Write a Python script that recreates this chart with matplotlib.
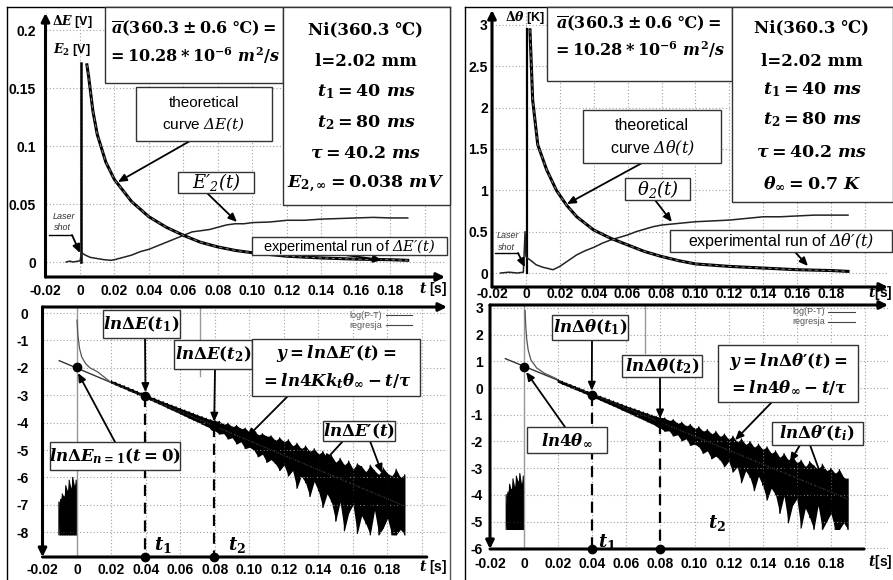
import matplotlib
matplotlib.use("Agg")
import matplotlib.pyplot as plt
from matplotlib.patches import Rectangle
from matplotlib.lines import Line2D

plt.rcParams['font.family'] = ['Liberation Sans', 'DejaVu Sans']
plt.rcParams['mathtext.fontset'] = 'custom'
plt.rcParams['mathtext.rm'] = 'DejaVu Serif:bold'
plt.rcParams['mathtext.it'] = 'DejaVu Serif:italic:bold'
plt.rcParams['mathtext.bf'] = 'DejaVu Serif:bold'
plt.rcParams['mathtext.sf'] = 'DejaVu Serif:italic'   # used for the non-bold formulas

W, H = 893, 580
PR = '\u2032'  # prime

# ---------------- data ----------------
grid_t = [-0.02, 0, 0.02, 0.04, 0.06, 0.08, 0.10, 0.12, 0.14, 0.16, 0.18, 0.20]
t_labels = ['-0.02', '0', '0.02', '0.04', '0.06', '0.08', '0.10', '0.12', '0.14', '0.16', '0.18', '']

# top left: dE(t) [V]
tl_yticks = [0, 0.05, 0.1, 0.15, 0.2]
tl_ylabels = ['0', '0.05', '0.1', '0.15', '0.2']
tl_theo_t = [0.004, 0.005, 0.0075, 0.01, 0.015, 0.02, 0.03, 0.04, 0.05, 0.06, 0.07, 0.08,
             0.09, 0.10, 0.12, 0.14, 0.16, 0.18, 0.19]
tl_theo_v = [0.17, 0.16, 0.13, 0.11, 0.086, 0.071, 0.052, 0.039, 0.030, 0.023, 0.017, 0.013,
             0.010, 0.008, 0.005, 0.0035, 0.0025, 0.002, 0.0015]
tl_e2_t = [-0.008, -0.006, -0.004, -0.002, 0.0, 0.001, 0.003, 0.006, 0.01, 0.014, 0.018, 0.02,
           0.025, 0.03, 0.035, 0.04, 0.045, 0.05, 0.055, 0.06, 0.065, 0.07, 0.075, 0.08, 0.085,
           0.09, 0.095, 0.10, 0.11, 0.12, 0.13, 0.14, 0.15, 0.16, 0.17, 0.18, 0.19]
tl_e2_v = [0.0, 0.0008, 0.0, 0.0006, 0.001, 0.008, 0.006, 0.004, 0.003, 0.002, 0.0015, 0.002,
           0.004, 0.006, 0.009, 0.011, 0.014, 0.017, 0.020, 0.023, 0.026, 0.027, 0.028, 0.030, 0.032,
           0.033, 0.033, 0.034, 0.0345, 0.036, 0.036, 0.037, 0.0375, 0.038, 0.0385, 0.038, 0.038]
tl_laser_top = 0.172

# bottom left: ln dE(t)
bl_yticks = [0, -1, -2, -3, -4, -5, -6, -7, -8]
bl_log_t = [0.0, 0.0005, 0.0015, 0.0027, 0.005, 0.0075, 0.012, 0.019]
bl_log_v = [-0.26, -0.8, -1.3, -1.6, -1.85, -2.0, -2.15, -2.5]
bl_reg_t = [-0.0103, 0.19]
bl_reg_v = [-1.74, -7.05]
noise_t = [0.02, 0.0225, 0.025, 0.0275, 0.03, 0.0325, 0.035, 0.0375, 0.04, 0.0425, 0.045, 0.0475,
           0.05, 0.0525, 0.055, 0.0575, 0.06, 0.0625, 0.065, 0.0675, 0.07, 0.0725, 0.075, 0.0775,
           0.08, 0.0825, 0.085, 0.0875, 0.09, 0.0925, 0.095, 0.0975, 0.1, 0.1025, 0.105, 0.1075,
           0.11, 0.1125, 0.115, 0.1175, 0.12, 0.1225, 0.125, 0.1275, 0.13, 0.1325, 0.135, 0.1375,
           0.14, 0.1425, 0.145, 0.1475, 0.15, 0.1525, 0.155, 0.1575, 0.16, 0.1625, 0.165, 0.1675,
           0.17, 0.1725, 0.175, 0.1775, 0.18, 0.1825, 0.185, 0.1875, 0.19]
bl_noise_hi = [-2.47, -2.53, -2.60, -2.66, -2.73, -2.79, -2.86, -2.92, -2.99, -3.05, -3.11, -3.18,
               -3.24, -3.30, -3.36, -3.42, -3.48, -3.54, -3.60, -3.66, -3.72, -3.78, -3.84, -3.89,
               -3.93, -3.95, -4.06, -4.02, -4.15, -4.10, -4.22, -4.20, -4.35, -4.28, -4.45, -4.40,
               -4.50, -4.48, -4.65, -4.55, -4.70, -4.62, -4.85, -4.75, -4.95, -4.85, -5.05, -4.95,
               -5.15, -5.05, -5.30, -5.20, -5.45, -5.30, -5.55, -5.40, -5.70, -5.50, -5.60, -5.80,
               -5.55, -5.75, -5.90, -5.65, -5.85, -5.95, -5.70, -6.00, -5.90]
bl_noise_lo = [-2.56, -2.63, -2.70, -2.76, -2.84, -2.90, -2.97, -3.04, -3.11, -3.18, -3.25, -3.32,
               -3.39, -3.47, -3.54, -3.61, -3.69, -3.76, -3.84, -3.91, -3.98, -4.06, -4.13, -4.21,
               -4.30, -4.42, -4.40, -4.60, -4.55, -4.78, -4.70, -4.95, -4.90, -5.00, -5.25, -5.15,
               -5.45, -5.35, -5.50, -5.75, -5.55, -5.95, -5.75, -6.40, -5.95, -6.20, -6.70, -6.15,
               -6.50, -7.10, -6.60, -6.90, -7.60, -6.90, -7.95, -7.30, -7.00, -8.05, -7.40, -7.70,
               -8.10, -7.20, -8.10, -7.85, -7.50, -8.10, -8.10, -7.90, -8.10]
pre_t = [-0.0105, -0.0095, -0.0085, -0.0075, -0.0065, -0.0055, -0.0045, -0.0035, -0.0025, -0.0015, -0.0005]
bl_pre_hi = [-6.9, -6.8, -6.6, -6.7, -6.3, -6.5, -6.1, -6.4, -6.0, -6.3, -6.1]
bl_pre_lo = [-8.1, -8.1, -8.1, -8.1, -8.1, -8.1, -8.1, -8.1, -8.1, -8.1, -8.1]
bl_dot_t = [0.0, 0.0397, 0.0795]
bl_dot_v = [-1.98, -3.04, -4.12]

# top right: d theta(t) [K]
tr_yticks = [0, 0.5, 1, 1.5, 2, 2.5, 3]
tr_ylabels = ['0', '0.5', '1', '1.5', '2', '2.5', '3']
tr_theo_t = [0.0024, 0.004, 0.007, 0.0122, 0.018, 0.024, 0.03, 0.04, 0.05, 0.06, 0.07, 0.08,
             0.09, 0.10, 0.12, 0.14, 0.16, 0.18, 0.19]
tr_theo_v = [2.94, 2.09, 1.55, 1.25, 1.0, 0.82, 0.68, 0.52, 0.42, 0.34, 0.26, 0.2,
             0.15, 0.11, 0.08, 0.06, 0.04, 0.03, 0.02]
tr_th2_t = [-0.015, -0.01, -0.005, -0.0015, -0.0005, 0.0, 0.001, 0.003, 0.006, 0.01, 0.014, 0.016,
            0.02, 0.025, 0.03, 0.035, 0.04, 0.045, 0.05, 0.055, 0.06, 0.065, 0.07, 0.075, 0.08,
            0.09, 0.10, 0.11, 0.12, 0.13, 0.14, 0.15, 0.16, 0.17, 0.18, 0.19]
tr_th2_v = [0.0, 0.01, 0.0, 0.01, 0.5, 0.2, 0.18, 0.15, 0.1, 0.07, 0.05, 0.04,
            0.08, 0.15, 0.22, 0.27, 0.31, 0.36, 0.40, 0.43, 0.46, 0.50, 0.53, 0.56, 0.58,
            0.60, 0.62, 0.63, 0.64, 0.66, 0.68, 0.68, 0.69, 0.70, 0.70, 0.70]
tr_laser_top = 2.95

# bottom right: ln d theta(t)
br_yticks = [3, 2, 1, 0, -1, -2, -3, -4, -5, -6]
br_log_t = [0.0006, 0.001, 0.0015, 0.0024, 0.004, 0.0074, 0.012, 0.019]
br_log_v = [2.9, 2.3, 1.85, 1.42, 1.05, 0.75, 0.55, 0.35]
br_reg_t = [-0.011, 0.19]
br_reg_v = [1.1, -4.16]
br_noise_hi = [0.31, 0.25, 0.18, 0.12, 0.06, 0.0, -0.07, -0.13, -0.19, -0.25, -0.31, -0.37,
               -0.43, -0.49, -0.55, -0.61, -0.67, -0.73, -0.78, -0.84, -0.90, -0.95, -1.01, -1.06,
               -1.10, -1.12, -1.22, -1.18, -1.32, -1.28, -1.42, -1.36, -1.52, -1.45, -1.62, -1.55,
               -1.72, -1.62, -1.82, -1.72, -1.92, -1.80, -2.02, -1.90, -2.12, -2.00, -2.22, -2.10,
               -2.30, -2.20, -2.45, -2.35, -2.60, -2.45, -2.70, -2.55, -2.80, -2.70, -2.95, -2.75,
               -2.90, -3.05, -2.85, -3.10, -3.00, -3.20, -3.05, -3.35, -3.40]
br_noise_lo = [0.21, 0.14, 0.08, 0.01, -0.06, -0.12, -0.19, -0.26, -0.33, -0.40, -0.47, -0.54,
               -0.61, -0.68, -0.75, -0.83, -0.90, -0.97, -1.05, -1.12, -1.19, -1.27, -1.34, -1.42,
               -1.50, -1.62, -1.60, -1.80, -1.75, -1.98, -1.90, -2.15, -2.10, -2.20, -2.45, -2.35,
               -2.65, -2.55, -2.70, -2.95, -2.75, -3.15, -2.95, -3.55, -3.10, -3.35, -3.85, -3.30,
               -3.65, -4.20, -3.75, -4.00, -4.70, -4.05, -5.05, -4.40, -4.15, -5.25, -4.50, -4.85,
               -5.30, -4.40, -5.30, -5.00, -4.70, -5.30, -5.30, -5.05, -5.30]
br_pre_hi = [-4.0, -3.9, -3.6, -3.8, -3.4, -3.7, -3.3, -3.5, -3.2, -3.6, -3.3]
br_pre_lo = [-5.3, -5.3, -5.3, -5.3, -5.3, -5.3, -5.3, -5.3, -5.3, -5.3, -5.3]
br_dot_t = [0.0, 0.0397, 0.0798]
br_dot_v = [0.775, -0.26, -1.30]

# ---------------- helpers ----------------
fig = plt.figure(figsize=(W / 100, H / 100), dpi=100)


def fx(x):
    return x / W


def fy(y):
    return 1 - y / H


def make_ax(x0, x1, y0, y1, xlim, ylim):
    ax = fig.add_axes([fx(x0), fy(y1), (x1 - x0) / W, (y1 - y0) / H])
    ax.set_xlim(xlim)
    ax.set_ylim(ylim)
    for s in ax.spines.values():
        s.set_visible(False)
    ax.patch.set_alpha(0)
    ax.tick_params(length=0, labelsize=10)
    ax.grid(True, color='#a0a0a0', ls=(0, (1, 2)), lw=0.8)
    return ax


def axis_arrow(ax, p0, p1, head=True):
    ax.annotate('', xy=p1, xytext=p0, xycoords='axes fraction',
                arrowprops=dict(arrowstyle='-|>' if head else '-', color='black', lw=2.2,
                                mutation_scale=12, shrinkA=0, shrinkB=0),
                annotation_clip=False, zorder=3)


def box(x0, y0, x1, y1):
    fig.add_artist(Rectangle((fx(x0), fy(y1)), (x1 - x0) / W, (y1 - y0) / H,
                             transform=fig.transFigure, fc='white', ec='#333333', lw=1.0, zorder=5))


def ftext(x, y, s, size=12, **kw):
    kw.setdefault('ha', 'center')
    fig.text(fx(x), fy(y), s, va='center', fontsize=size, zorder=6, **kw)


def arrow(ax, x, y, t, v, shrink=0):
    ax.annotate('', xy=(t, v), xycoords='data', xytext=(fx(x), fy(y)), textcoords='figure fraction',
                arrowprops=dict(arrowstyle='-|>,head_length=0.5,head_width=0.22', color='black',
                                lw=1.3, shrinkA=0, shrinkB=shrink),
                annotation_clip=False, zorder=4)


def fline(x0, y0, x1, y1, **kw):
    fig.add_artist(Line2D([fx(x0), fx(x1)], [fy(y0), fy(y1)], transform=fig.transFigure, **kw))


def noise_band(ax, ts, hi, lo):
    # dense band plus a zig-zag through the read upper / lower values
    ax.fill_between(ts, lo, hi, color='black', lw=0)
    zt, zv = [], []
    for t, a, b in zip(ts, hi, lo):
        zt += [t, t]
        zv += [a, b]
    ax.plot(zt, zv, color='black', lw=0.8)


def bold_ticks(ax):
    for lab in ax.get_xticklabels() + ax.get_yticklabels():
        lab.set_fontweight('bold')


serif = ['DejaVu Serif', 'DejaVu Sans']

# outer frames
fline(7, 7, 450, 7, color='black', lw=1)
fline(7, 7, 7, 580, color='black', lw=1)
fline(450, 7, 450, 580, color='#555555', lw=1)
fline(465, 7, 893, 7, color='black', lw=1)
fline(465, 7, 465, 580, color='black', lw=1)

# ---------------- top left ----------------
ax1 = make_ax(45.5, 445, 13, 277, (-0.02, 0.2116), (-0.0129, 0.2147))
ax1.set_xticks(grid_t)
ax1.set_xticklabels(t_labels)
ax1.set_yticks(tl_yticks)
ax1.set_yticklabels(tl_ylabels)
bold_ticks(ax1)
ax1.tick_params(axis='x', pad=5)
ax1.tick_params(axis='y', pad=7)
axis_arrow(ax1, (0, 0), (1, 0))
axis_arrow(ax1, (0, 0), (0, 1))
ax1.plot([0.0005, 0.0005], [0, tl_laser_top], color='black', lw=1.8)
ax1.plot(tl_e2_t, tl_e2_v, color='#222222', lw=1.1)
ax1.plot(tl_theo_t, tl_theo_v, color='black', lw=2.2)
ax1.plot(tl_theo_t, tl_theo_v, color='#777777', lw=0.8, ls=(0, (3, 3)))
ftext(72, 22, r'$\Delta E$ [V]', size=9, fontweight='bold')
ftext(72, 50, r'$E_2$ [V]', size=9, fontweight='bold')
ftext(433, 289, r'$t$ [s]', size=10, fontweight='bold')

box(105, 7, 283, 83)
ftext(194, 28, r'$\overline{a}(360.3 \pm 0.6$ ℃$) =$', size=11.5, family=serif, fontweight='bold')
ftext(194, 56, r'$= 10.28 * 10^{-6}\ m^2/s$', size=11.5, family=serif, fontweight='bold')
box(283, 7, 450, 205)
ftext(366, 30, 'Ni(360.3 ℃)', size=12, family=serif, fontweight='bold')
ftext(366, 62, 'l=2.02 mm', size=12, family=serif, fontweight='bold')
ftext(366, 92, r'$t_1 = 40\ ms$', size=12.5)
ftext(366, 123, r'$t_2 = 80\ ms$', size=12.5)
ftext(366, 153, r'$\tau = 40.2\ ms$', size=12.5)
ftext(366, 184, r'$E_{2,\infty} = 0.038\ mV$', size=12.5)

box(136, 87, 272, 141)
ftext(204, 103, 'theoretical', size=11)
ftext(204, 124, r'curve $\mathsf{\Delta E(t)}$', size=11)
arrow(ax1, 190, 141, 0.022, 0.069)
box(178, 172, 254, 193)
ftext(216, 182, '$\\mathsf{E' + PR + '_2(t)}$', size=13)
arrow(ax1, 207, 193, 0.091, 0.0345)
box(252, 237, 447, 255)
ftext(349, 246, 'experimental run of $\\mathsf{\\Delta E' + PR + '(t)}$', size=10.5)
arrow(ax1, 345, 255, 0.175, 0.0017)
ftext(64, 216, 'Laser', size=6.5, style='italic', color='#333333')
ftext(62, 228, 'shot', size=6.5, style='italic', color='#333333')
fline(49, 235, 72, 235, color='black', lw=1)
arrow(ax1, 72, 235, 0.0, 0.0078)

# ---------------- bottom left ----------------
ax2 = make_ax(42.5, 447, 307, 557, (-0.02, 0.2145), (-8.905, 0.219))
ax2.set_xticks(grid_t)
ax2.set_xticklabels(t_labels)
ax2.set_yticks(bl_yticks)
ax2.set_yticklabels([str(v) for v in bl_yticks])
bold_ticks(ax2)
ax2.tick_params(axis='x', pad=4)
ax2.tick_params(axis='y', pad=10)
axis_arrow(ax2, (0, 1), (1, 1))
axis_arrow(ax2, (0, 1), (0, 0))
axis_arrow(ax2, (0, 0), (0.95, 0), head=False)
ax2.axvline(0, color='#999999', lw=1)
ax2.plot([0.0713, 0.0713], [0.219, -2.3], color='#999999', lw=1)
ax2.plot(bl_reg_t, bl_reg_v, color='#333333', lw=1.0)
ax2.plot(bl_log_t, bl_log_v, color='#555555', lw=0.9)
noise_band(ax2, noise_t, bl_noise_hi, bl_noise_lo)
noise_band(ax2, pre_t, bl_pre_hi, bl_pre_lo)
for t, v in zip(bl_dot_t[1:], bl_dot_v[1:]):
    ax2.plot([t, t], [v, -8.905], color='black', lw=1.6, ls=(0, (5, 3)))
    ax2.plot(t, -8.905, 'o', color='black', ms=6, clip_on=False, zorder=5)
ax2.plot(bl_dot_t, bl_dot_v, 'o', color='black', ms=6, zorder=5)
ftext(433, 567, r'$t$ [s]', size=10, fontweight='bold')
ftext(163, 545, r'$t_1$', size=13)
ftext(237, 545, r'$t_2$', size=13)
ftext(382, 315, 'log(P-T)', size=6.5, color='#555555', ha='right')
ftext(382, 325, 'regresja', size=6.5, color='#555555', ha='right')
fline(386, 315, 412, 315, color='#444444', lw=0.8)
fline(386, 325, 412, 325, color='#444444', lw=0.8)

box(103, 310, 180, 338)
ftext(141, 324, r'$ln\Delta E(t_1)$', size=12)
arrow(ax2, 145, 338, bl_dot_t[1], bl_dot_v[1], shrink=3)
box(174, 340, 252, 369)
ftext(213, 354, r'$ln\Delta E(t_2)$', size=12)
arrow(ax2, 215, 369, bl_dot_t[2], bl_dot_v[2], shrink=3)
box(252, 339, 420, 396)
ftext(336, 353, '$y = ln\\Delta E' + PR + '(t) =$', size=12)
ftext(336, 381, r'$= ln4Kk_t\theta_\infty - t/\tau$', size=12)
arrow(ax2, 288, 396, 0.0986, -4.53)
box(323, 421, 395, 441)
ftext(359, 431, '$ln\\Delta E' + PR + '(t)$', size=12)
arrow(ax2, 343, 441, 0.1426, -5.47)
arrow(ax2, 370, 441, 0.1768, -5.84)
box(50, 442, 180, 470)
ftext(115, 456, r'$ln\Delta E_{n=1}(t = 0)$', size=12)
arrow(ax2, 115, 442, 0.0006, -2.19)

# ---------------- top right ----------------
ax3 = make_ax(492, 888, 10, 287, (-0.02, 0.2136), (-0.169, 3.18))
ax3.set_xticks(grid_t)
ax3.set_xticklabels(t_labels)
ax3.set_yticks(tr_yticks)
ax3.set_yticklabels(tr_ylabels)
bold_ticks(ax3)
ax3.tick_params(axis='x', pad=0)
ax3.tick_params(axis='y', pad=3)
axis_arrow(ax3, (0, 0), (1, 0))
axis_arrow(ax3, (0, 0), (0, 1))
ax3.plot([0.0004, 0.0004], [0, tr_laser_top], color='black', lw=1.6)
ax3.plot(tr_th2_t, tr_th2_v, color='#222222', lw=1.1)
ax3.plot(tr_theo_t, tr_theo_v, color='black', lw=2.2)
ax3.plot(tr_theo_t, tr_theo_v, color='#777777', lw=0.8, ls=(0, (3, 3)))
ftext(525, 17, r'$\Delta\theta$ [K]', size=9, fontweight='bold')
ftext(880, 293, r'$t$[s]', size=10, fontweight='bold')

box(547, 7, 732, 81)
ftext(639, 23, r'$\overline{a}(360.3 \pm 0.6$ ℃$) =$', size=11.5, family=serif, fontweight='bold')
ftext(639, 50, r'$= 10.28 * 10^{-6}\ m^2/s$', size=11.5, family=serif, fontweight='bold')
box(732, 7, 893, 202)
ftext(812, 28, 'Ni(360.3 ℃)', size=12, family=serif, fontweight='bold')
ftext(812, 62, 'l=2.02 mm', size=12, family=serif, fontweight='bold')
ftext(812, 90, r'$t_1 = 40\ ms$', size=12.5)
ftext(812, 120, r'$t_2 = 80\ ms$', size=12.5)
ftext(812, 152, r'$\tau = 40.2\ ms$', size=12.5)
ftext(812, 183, r'$\theta_\infty = 0.7\ K$', size=12.5)

box(583, 110, 721, 163)
ftext(652, 126, 'theoretical', size=11.5)
ftext(652, 148, r'curve $\mathsf{\Delta\theta(t)}$', size=11.5)
arrow(ax3, 642, 163, 0.0242, 0.834)
box(625, 178, 690, 200)
ftext(658, 189, r'$\mathsf{\theta_2(t)}$', size=13)
arrow(ax3, 655, 200, 0.0861, 0.617)
box(670, 230, 892, 252)
ftext(781, 241, 'experimental run of $\\mathsf{\\Delta\\theta' + PR + '(t)}$', size=11.5)
arrow(ax3, 795, 252, 0.1664, 0.085)
ftext(508, 236, 'Laser', size=6.5, style='italic', color='#333333')
ftext(506, 248, 'shot', size=6.5, style='italic', color='#333333')
fline(495, 253, 518, 253, color='black', lw=1)
arrow(ax3, 518, 253, -0.0006, 0.07)

# ---------------- bottom right ----------------
ax4 = make_ax(490, 888, 305, 549, (-0.02, 0.2135), (-6.03, 3.109))
ax4.set_xticks(grid_t)
ax4.set_xticklabels(t_labels)
ax4.set_yticks(br_yticks)
ax4.set_yticklabels([str(v) for v in br_yticks])
bold_ticks(ax4)
ax4.tick_params(axis='x', pad=6)
ax4.tick_params(axis='y', pad=5)
axis_arrow(ax4, (0, 1), (1, 1))
axis_arrow(ax4, (0, 1), (0, 0))
axis_arrow(ax4, (0, 0), (0.94, 0), head=False)
ax4.axvline(0, color='#999999', lw=1)
ax4.plot([0.071, 0.071], [3.109, 1.3], color='#999999', lw=1)
ax4.plot(br_reg_t, br_reg_v, color='#333333', lw=1.0)
ax4.plot(br_log_t, br_log_v, color='#555555', lw=0.9)
noise_band(ax4, noise_t, br_noise_hi, br_noise_lo)
noise_band(ax4, pre_t, br_pre_hi, br_pre_lo)
for t, v in zip(br_dot_t[1:], br_dot_v[1:]):
    ax4.plot([t, t], [v, -6.03], color='black', lw=1.6, ls=(0, (5, 3)))
    ax4.plot(t, -6.03, 'o', color='black', ms=6, clip_on=False, zorder=5)
ax4.plot(br_dot_t, br_dot_v, 'o', color='black', ms=6, zorder=5)
ftext(880, 562, r'$t$[s]', size=10, fontweight='bold')
ftext(607, 542, r'$t_1$', size=13)
ftext(717, 523, r'$t_2$', size=13)
ftext(825, 312, 'log(P-T)', size=6.5, color='#555555', ha='right')
ftext(825, 322, 'regresja', size=6.5, color='#555555', ha='right')
fline(828, 312, 855, 312, color='#444444', lw=0.8)
fline(828, 322, 855, 322, color='#444444', lw=0.8)

box(552, 315, 628, 340)
ftext(590, 327, r'$ln\Delta\theta(t_1)$', size=12)
arrow(ax4, 592, 340, br_dot_t[1], br_dot_v[1], shrink=3)
box(622, 355, 702, 377)
ftext(662, 366, r'$ln\Delta\theta(t_2)$', size=12)
arrow(ax4, 660, 377, br_dot_t[2], br_dot_v[2], shrink=3)
box(718, 345, 858, 402)
ftext(788, 362, '$y = ln\\Delta\\theta' + PR + '(t) =$', size=12)
ftext(788, 388, r'$= ln4\theta_\infty - t/\tau$', size=12)
arrow(ax4, 772, 402, 0.1238, -1.95)
box(772, 422, 863, 445)
ftext(817, 433, '$ln\\Delta\\theta' + PR + '(t_i)$', size=12)
arrow(ax4, 800, 445, 0.156, -2.77)
arrow(ax4, 810, 445, 0.1748, -3.37)
box(527, 427, 607, 453)
ftext(567, 440, r'$ln4\theta_\infty$', size=12)
arrow(ax4, 565, 427, 0.0012, 0.6)

fig.savefig('out.png', dpi=100)
